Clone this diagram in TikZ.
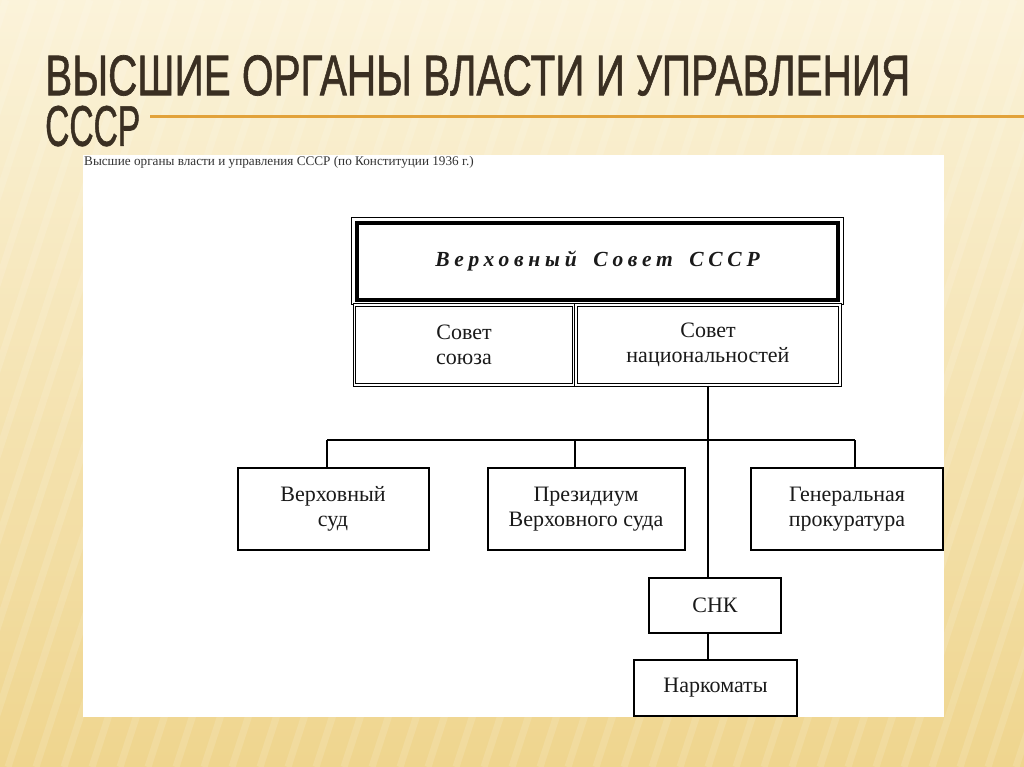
\documentclass[tikz,border=0pt]{standalone}
\usepackage{fontspec}
\setmainfont{Liberation Serif}
\newfontfamily\titlefont[FakeBold=1.2]{Liberation Sans}
\newfontfamily\vsfont[LetterSpace=22]{Liberation Serif}
\usetikzlibrary{calc}
\definecolor{bgtop}{HTML}{FBF3DA}
\definecolor{bgbot}{HTML}{EFD58E}
\definecolor{titlecol}{HTML}{3A2F22}
\definecolor{rulecol}{HTML}{E2A23A}
\definecolor{ink}{HTML}{1A1A1A}
\tikzset{
  box/.style={draw=black, line width=2pt, fill=white, inner sep=0pt, align=center,
    text=ink, font=\fontsize{22}{25}\selectfont},
  dbox/.style={box, double, double distance=1.6pt, line width=1pt},
  conn/.style={draw=black, line width=2.2pt},
  ttl/.style={inner sep=0pt, text=titlecol}
}
\begin{document}
\begin{tikzpicture}[x=1pt,y=-1pt]
\useasboundingbox (0,0) rectangle (1024,767);
\shade[top color=bgtop, bottom color=bgbot] (0,0) rectangle (1024,767);
\begin{scope}
\clip (0,0) rectangle (1024,767);
\foreach \i in {-300,-272,...,1100}
  \draw[white, opacity=0.13, line width=7pt] (\i,767) -- (\i+250,0);
\end{scope}
% title
\node[ttl, anchor=north west, align=left] (t1) at (45,55)
  {\resizebox{865pt}{40pt}{\titlefont ВЫСШИЕ ОРГАНЫ ВЛАСТИ И УПРАВЛЕНИЯ}\\[9pt]
   \resizebox{95pt}{40pt}{\titlefont СССР}};
\coordinate (rs) at (150,117);
\coordinate (re) at (1024,117);
\draw[rulecol, line width=3pt] (rs) -- (re);
% panel
\fill[white] (83,155) rectangle (944,717);
\node[anchor=west, inner sep=0pt, text=black!80, font=\fontsize{13.2}{15}\selectfont] (cap) at (84,162)
  {Высшие органы власти и управления СССР (по Конституции 1936 г.)};
% top box
\node[draw=black, line width=3.5pt, fill=white, inner sep=0pt, minimum width=481pt, minimum height=77pt,
  text=ink, font=\fontsize{21.5}{24}\selectfont] (vs) at (597.5,261.5)
  {\vsfont\bfseries\itshape Верховный\hspace{0.3em} Совет\hspace{0.3em} СССР};
\draw[line width=1pt] ($(vs.north west)+(-4,-4)$) rectangle ($(vs.south east)+(4,3)$);
% chambers
\node[dbox, minimum width=219pt, minimum height=80pt] (ss) at (464,345) {Совет\\союза};
\node[dbox, minimum width=264pt, minimum height=80pt] (sn) at (708,345) {Совет\\национальностей};
% lower boxes
\node[box, minimum width=191pt, minimum height=82pt] (vsud) at (333,509) {Верховный\\суд};
\node[box, minimum width=197pt, minimum height=82pt] (pres) at (586,509) {Президиум\\Верховного суда};
\node[box, minimum width=192pt, minimum height=82pt] (gen) at (847,509) {Генеральная\\прокуратура};
\node[box, minimum width=132pt, minimum height=55pt] (snk) at (715,605.5) {СНК};
\node[box, minimum width=163pt, minimum height=56pt] (nark) at (715.5,688) {Наркоматы};
% connectors
\coordinate (b1) at (327,440);
\coordinate (b2) at (575,440);
\coordinate (b3) at (855,440);
\draw[conn] (b1) -- (b3);
\draw[conn] (b1) -- (b1 |- vsud.north);
\draw[conn] (b2) -- (b2 |- pres.north);
\draw[conn] (b3) -- (b3 |- gen.north);
\draw[conn] (sn.south) -- (sn.south |- snk.north);
\draw[conn] (sn.south |- snk.south) -- (sn.south |- nark.north);
\end{tikzpicture}
\end{document}
